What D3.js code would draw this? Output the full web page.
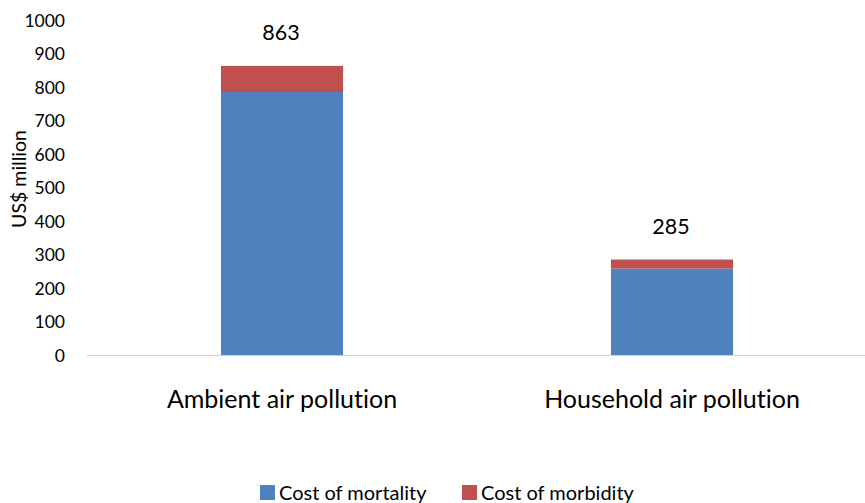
<!DOCTYPE html>
<html>
<head>
<meta charset="utf-8">
<script src="https://cdn.jsdelivr.net/npm/d3@7"></script>
<style>
  html, body { margin: 0; padding: 0; background: #fff; }
  svg { display: block; font-family: Lato, "Open Sans", sans-serif; }
  svg text { font-variant-ligatures: none; font-feature-settings: "liga" 0; }
</style>
</head>
<body>
<svg id="chart" width="865" height="503"></svg>
<script>
// Economic cost of air pollution, US$ million
const categories = ["Ambient air pollution", "Household air pollution"];
const seriesNames = ["Cost of mortality", "Cost of morbidity"];
const mortality = [785, 258];
const morbidity = [78, 27];
const totals = [863, 285];
const yTicks = [0, 100, 200, 300, 400, 500, 600, 700, 800, 900, 1000];
const colors = ["#4F81BD", "#C0504D"];

const svg = d3.select("#chart");
const plot = { left: 87, right: 865, top: 20, bottom: 355 };

const x = d3.scaleBand()
  .domain(categories)
  .range([plot.left, 867])
  .paddingInner(0.687)
  .paddingOuter(0.3435);

const y = d3.scaleLinear()
  .domain([0, 1000])
  .range([plot.bottom, plot.top]);

const rows = categories.map((c, i) => ({ category: c, mortality: mortality[i], morbidity: morbidity[i] }));
const stacked = d3.stack().keys(["mortality", "morbidity"])(rows);

// stacked bars
svg.append("g").selectAll("g")
  .data(stacked)
  .join("g")
  .attr("fill", (d, i) => colors[i])
  .selectAll("rect")
  .data(d => d)
  .join("rect")
  .attr("x", d => x(d.data.category))
  .attr("width", x.bandwidth())
  .attr("y", d => y(d[1]))
  .attr("height", d => y(d[0]) - y(d[1]));

// y axis labels (no axis line)
const yAxis = d3.axisLeft(y).tickValues(yTicks).tickSize(0).tickPadding(0).tickFormat(d3.format("d"));
const gy = svg.append("g").attr("transform", `translate(65,0)`).call(yAxis);
gy.select(".domain").remove();
gy.selectAll("text").attr("font-size", 17.5).attr("fill", "#000")
  .attr("font-family", "Lato, 'Open Sans', sans-serif").attr("dy", "0.35em");

// category axis
const xAxis = d3.axisBottom(x).tickSize(0).tickPadding(0);
const gx = svg.append("g").attr("transform", `translate(0,${plot.bottom})`).call(xAxis);
gx.select(".domain").attr("stroke", "#d0d0d0").attr("d", `M${plot.left},0.5H865`);
gx.selectAll("text").attr("font-size", 25).attr("fill", "#000")
  .attr("font-family", "Lato, 'Open Sans', sans-serif").attr("y", 44).attr("dy", "0.35em");

// y axis title
svg.append("text")
  .attr("transform", `translate(26,179) rotate(-90)`)
  .attr("text-anchor", "middle")
  .attr("font-size", 19.5)
  .text("US$ million");

// total labels
svg.append("g").selectAll("text")
  .data(totals)
  .join("text")
  .attr("x", (d, i) => x(categories[i]) + x.bandwidth() / 2 - 1)
  .attr("y", d => y(d) - 33)
  .attr("text-anchor", "middle")
  .attr("font-size", 21.5)
  .attr("dy", "0.35em")
  .text(d => d);

// legend
const legendX = [260, 462];
const lg = svg.append("g").selectAll("g")
  .data(seriesNames)
  .join("g")
  .attr("transform", (d, i) => `translate(${legendX[i]},485)`);
lg.append("rect").attr("width", 15).attr("height", 15).attr("fill", (d, i) => colors[i]);
lg.append("text").attr("x", 19).attr("y", 8).attr("dy", "0.35em").attr("font-size", 20).text(d => d);
</script>
</body>
</html>
